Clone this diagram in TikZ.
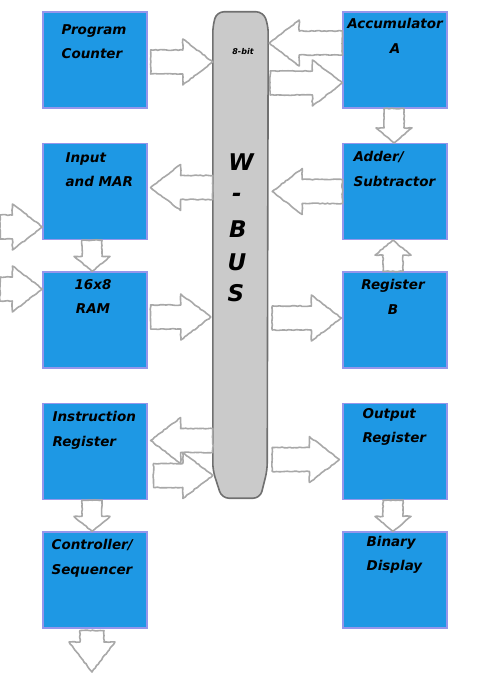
\documentclass[tikz,border=0pt]{standalone}
\usepackage{fontspec}
\newfontfamily\handfont{DejaVu Sans}
\usetikzlibrary{calc,decorations.pathmorphing}
\definecolor{boxblue}{RGB}{30,152,228}
\definecolor{boxedge}{RGB}{150,150,235}
\definecolor{busgray}{RGB}{202,202,202}
\definecolor{busedge}{RGB}{112,112,112}
\definecolor{arredge}{RGB}{168,168,168}

\newcommand{\fatarrow}[5]{%
	\coordinate (fa) at #1;
	\coordinate (fb) at #2;
	\coordinate (hb) at ($(fb)!#5!(fa)$);
	\filldraw[blockarrow] ($(fa)!#3!90:(fb)$) -- ($(hb)!#3!90:(fb)$) -- ($(hb)!#4!90:(fb)$) -- (fb) -- ($(hb)!#4!-90:(fb)$) -- ($(hb)!#3!-90:(fb)$) -- ($(fa)!#3!-90:(fb)$) -- cycle;}
\newcommand{\bigarrow}[2]{\fatarrow{#1}{#2}{12pt}{23pt}{30pt}}
\newcommand{\smallarrow}[2]{\fatarrow{#1}{#2}{10pt}{18pt}{15pt}}

\begin{document}
\begin{tikzpicture}[x=1pt,y=-1pt,
		unit/.style={minimum width=104pt,minimum height=96pt,inner sep=0pt,fill=boxblue,draw=boxedge,line width=1.2pt},
		lbl/.style={inner sep=0pt,align=left,font=\handfont\bfseries\itshape\fontsize{13.5}{24.5}\selectfont},
		clbl/.style={lbl,align=center},
		buslbl/.style={inner sep=0pt,font=\handfont\bfseries\itshape\fontsize{23}{24}\selectfont},
		blockarrow/.style={fill=white,draw=arredge,line width=1.6pt,line join=round,decorate,decoration={random steps,segment length=2.5pt,amplitude=0.45pt}}]

			\useasboundingbox (0,0) rectangle (480,684);

			\node[unit] (pc) at (95,60) {};
			\node[unit] (acc) at (395,60) {};
			\node[unit] (mar) at (95,191.5) {};
			\node[unit] (adder) at (395,191.5) {};
			\node[unit] (ram) at (95,320) {};
			\node[unit] (regb) at (395,320) {};
			\node[unit] (ir) at (95,451.5) {};
			\node[unit] (out) at (395,451.5) {};
			\node[unit] (ctrl) at (95,580) {};
			\node[unit] (bin) at (395,580) {};

			\node[lbl,anchor=north west] (pclbl) at ([xshift=19pt,yshift=-13pt]pc.north west) {Program\\Counter};
			\node[clbl,anchor=north] (acclbl) at ([yshift=-7pt]acc.north) {Accumulator\\A};
			\node[lbl,anchor=north west] (marlbl) at ([xshift=23pt,yshift=-9.5pt]mar.north west) {Input\\and MAR};
			\node[lbl,anchor=north west] (adderlbl) at ([xshift=11pt,yshift=-8.5pt]adder.north west) {Adder/\\Subtractor};
			\node[clbl,anchor=north] (ramlbl) at ([xshift=-2pt,yshift=-7.5pt]ram.north) {16x8\\RAM};
			\node[clbl,anchor=north] (regblbl) at ([xshift=-2pt,yshift=-8pt]regb.north) {Register\\B};
			\node[lbl,anchor=north west] (irlbl) at ([xshift=10pt,yshift=-8.5pt]ir.north west) {Instruction\\Register};
			\node[lbl,anchor=north west] (outlbl) at ([xshift=20pt,yshift=-5pt]out.north west) {Output\\Register};
			\node[lbl,anchor=north west] (ctrllbl) at ([xshift=9pt,yshift=-8pt]ctrl.north west) {Controller/\\Sequencer};
			\node[lbl,anchor=north west] (binlbl) at ([xshift=24pt,yshift=-4.5pt]bin.north west) {Binary\\Display};

			\node[minimum width=55pt,minimum height=486pt,inner sep=0pt] (bus) at (240.5,255) {};
			\filldraw[fill=busgray,draw=busedge,line width=1.6pt,rounded corners=7pt] ([xshift=4pt]bus.north west) -- ([yshift=-14pt]bus.north west) -- ([yshift=28pt]bus.south west) -- ([xshift=9pt]bus.south west) -- ([xshift=-8pt]bus.south east) -- ([yshift=28pt,xshift=-1pt]bus.south east) -- ([yshift=-14pt]bus.north east) -- ([xshift=-5pt]bus.north east) -- cycle;
			\node[inner sep=0pt,font=\handfont\bfseries\itshape\fontsize{8}{9}\selectfont] (bits) at ([xshift=2.5pt,yshift=-40pt]bus.north) {8-bit};
			\foreach \ch/\y/\x in {W/162/241,-/197/237,B/229/238,U/262/237,S/293/236}
				\node[buslbl] (w\y) at (\x,\y) {\ch};

			\coordinate (marin) at (0,227);
			\coordinate (ramin) at (0,289);
			\coordinate (ctrlout) at (92,672);

			\bigarrow{([xshift=3pt,yshift=-2pt]pc.east)}{(bus.west |- fa)}
			\bigarrow{([yshift=17pt]acc.west)}{([xshift=1pt]bus.east |- fa)}
			\bigarrow{([xshift=2pt,yshift=-23pt]bus.east |- acc.west)}{(acc.west |- fa)}
			\smallarrow{([xshift=-1pt]acc.south)}{([xshift=-1pt]adder.north)}
			\bigarrow{([yshift=4pt]bus.west |- mar.east)}{([xshift=3pt]mar.east |- fa)}
			\bigarrow{(adder.west)}{([xshift=4pt]bus.east |- fa)}
			\bigarrow{(marin)}{(mar.west |- marin)}
			\smallarrow{([xshift=-3pt]mar.south)}{([xshift=-3pt]ram.north)}
			\bigarrow{(ramin)}{(ram.west |- ramin)}
			\bigarrow{([xshift=3pt,yshift=3pt]ram.east)}{([xshift=-2pt]bus.west |- fa)}
			\smallarrow{([xshift=-2pt]regb.north)}{([xshift=-2pt]adder.south)}
			\bigarrow{([xshift=4pt,yshift=2pt]bus.east |- regb.west)}{([xshift=-1pt]regb.west |- fa)}
			\bigarrow{([yshift=11pt]bus.west |- ir.east)}{([xshift=3pt]ir.east |- fa)}
			\bigarrow{([xshift=6pt,yshift=-24pt]ir.east)}{(bus.west |- fa)}
			\bigarrow{([xshift=4pt,yshift=-8pt]bus.east |- out.west)}{([xshift=-3pt]out.west |- fa)}
			\smallarrow{([xshift=-3pt]ir.south)}{([xshift=-3pt]ctrl.north)}
			\smallarrow{([xshift=-2pt]out.south)}{([xshift=-2pt]bin.north)}
			\bigarrow{([xshift=-3pt,yshift=-2pt]ctrl.south)}{(ctrlout)}

		\end{tikzpicture}
\end{document}
